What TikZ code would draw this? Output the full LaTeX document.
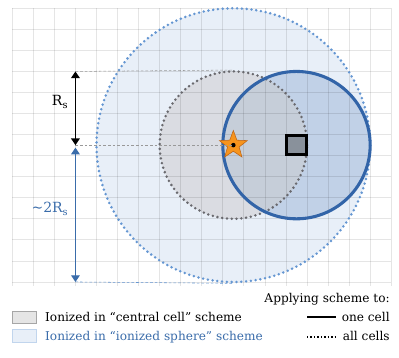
\documentclass[tikz,border=0pt]{standalone}
\usepackage{fontspec}
\setmainfont{DejaVu Serif}
\usetikzlibrary{shapes.geometric,arrows.meta}
\definecolor{bigfill}{RGB}{232,239,248}
\definecolor{bigline}{RGB}{100,150,210}
\definecolor{grayfill}{RGB}{218,220,226}
\definecolor{grayline}{RGB}{105,105,110}
\definecolor{bluefill}{RGB}{193,209,231}
\definecolor{blueline}{RGB}{50,100,168}
\definecolor{sqfill}{RGB}{137,145,155}
\definecolor{starfill}{RGB}{247,148,29}
\definecolor{stardraw}{RGB}{190,100,20}
\definecolor{txtblue}{RGB}{58,108,170}
\tikzset{
  dotline/.style={line width=2.1pt, dash pattern=on 0pt off 3.6pt, line cap=round},
  guide/.style={gray!80, line width=0.4pt, dash pattern=on 2pt off 1.5pt},
  lbl/.style={font=\fontsize{9.1}{11}\selectfont, inner sep=0pt},
  gridline/.style={black, opacity=0.1, line width=0.6pt},
}
\begin{document}
\begin{tikzpicture}[x=15.7875pt, y=-15.7875pt]
\useasboundingbox (-0.584,-0.394) rectangle (18.37,16.565);
% big ionized sphere
\fill[bigfill] (10.5,6.5) circle (6.5);
% central-cell circle
\fill[grayfill] (10.5,6.5) circle (3.5);
% one-cell circle
\begin{scope}
  \fill[bluefill] (13.5,6.5) circle (3.5);
  \clip (13.5,6.5) circle (3.5);
  \fill[black!20, opacity=0.5] (10.5,6.5) circle (3.5);
\end{scope}
% grid
\foreach \i in {0,...,18} \draw[gridline] (\i,0) -- (\i,13.18);
\foreach \j in {0,...,13} \draw[gridline] (0,\j) -- (18,\j);
% outlines
\node[circle, minimum size=13*15.7875pt, inner sep=0pt, draw=bigline, dotline] (big) at (10.5,6.5) {};
\node[circle, minimum size=7*15.7875pt, inner sep=0pt, draw=grayline, dotline] (cen) at (10.5,6.5) {};
\node[circle, minimum size=7*15.7875pt, inner sep=0pt, draw=blueline, line width=2.3pt] (one) at (13.5,6.5) {};
% square and star
\node[rectangle, minimum size=14.5pt, inner sep=0pt, fill=sqfill, draw=black, line width=2.4pt] (sq) at (13.5,6.5) {};
\node[star, star points=5, star point ratio=2.4, minimum size=22pt, inner sep=0pt, fill=starfill, draw=stardraw, line width=0.4pt] (st) at (10.5,6.5) {};
\fill[black] (st.center) circle (1.7pt);
% guides
\coordinate (a1) at (3,3);
\coordinate (a2) at (3,6.5);
\coordinate (b1) at (3,6.62);
\coordinate (b2) at (3,13);
\draw[guide] (a1) -- (cen.north);
\draw[guide] (a2) -- (st.center);
\draw[guide, draw=bigline] (b2) -- (big.south);
% arrows
\draw[line width=0.9pt, black, {Triangle[width=6.5pt,length=5pt]}-{Triangle[width=6.5pt,length=5pt]}] (a1) -- (a2);
\draw[line width=0.9pt, txtblue, {Triangle[width=6.5pt,length=5pt]}-{Triangle[width=6.5pt,length=5pt]}] (b1) -- (b2);
\node[lbl, font=\fontsize{10.5}{12}\selectfont] (rs) at (2.27,4.45) {R\textsubscript{s}};
\node[lbl, font=\fontsize{10.5}{12}\selectfont, text=txtblue] (r2) at (1.79,9.53) {\textasciitilde2R\textsubscript{s}};
% legend
\node[rectangle, draw=gray!70, fill=gray!20, line width=0.5pt, minimum width=18pt, minimum height=9.4pt, inner sep=0pt, anchor=north west] (lg1) at (0,14.37) {};
\node[rectangle, draw=bigline!40, fill=bigfill, line width=0.5pt, minimum width=18pt, minimum height=9.4pt, inner sep=0pt, anchor=north west] (lg2) at (0,15.25) {};
\node[lbl, anchor=base west] (t1) at (1.55,14.9) {Ionized in “central cell” scheme};
\node[lbl, anchor=base west, text=txtblue] (t2) at (1.55,15.76) {Ionized in “ionized sphere” scheme};
\node[lbl, anchor=base east] (t3) at (17.94,13.99) {Applying scheme to:};
\node[lbl, anchor=base east] (t4) at (17.94,14.9) {one cell};
\node[lbl, anchor=base east] (t5) at (17.94,15.76) {all cells};
\coordinate (l1a) at (14.0,14.67);
\coordinate (l2a) at (14.0,15.62);
\draw[line width=1.3pt] (l1a) -- (l1a -| 15.38,0);
\draw[line width=1.3pt, dash pattern=on 1pt off 1.6pt] (l2a) -- (l2a -| 15.38,0);
\end{tikzpicture}
\end{document}
